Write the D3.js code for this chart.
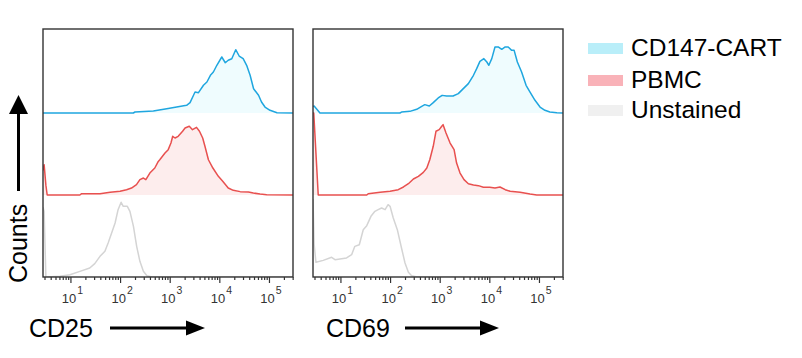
<!DOCTYPE html>
<html><head><meta charset="utf-8">
<script src="https://cdn.jsdelivr.net/npm/d3@7"></script>
<style>
html,body{margin:0;padding:0;background:#fff;}
svg{display:block;font-family:"Liberation Sans",Arial,Helvetica,sans-serif;}
</style></head>
<body><svg id="chart" width="802" height="358"></svg>
<script>
// ---- data ----
const panels = ["CD25", "CD69"];
const categories = ["CD147-CART", "PBMC", "Unstained"];
const tickExponents = [1, 2, 3, 4, 5];
const xDomain = [2.8, 305000];

// [fluorescence intensity, % of mode]
const cd25Cart = [[2.8,0],[185,0],[200,1.2],[468,2.4],[871,5.3],[1380,7.3],[2190,9.4],[2570,12.6],[3020,21.6],[3240,25.6],[3800,24.8],[4790,33.8],[5620,37.8],[6610,46],[7590,50],[8910,58.2],[11200,68.3],[13200,61.3],[15100,64.3],[17800,66.2],[21400,77.2],[25100,69.5],[30200,66.2],[35500,58.2],[41700,46],[49000,29.6],[61700,21.6],[70800,13.4],[83200,7.3],[105000,3.3],[145000,0.4],[305000,0]];
const cd25Pbmc = [[2.8,30],[2.95,37],[3.2,12],[3.4,0],[15.5,0],[16.8,1.6],[39.4,1.6],[63,3.3],[100,4.5],[135,6.5],[170,8.5],[214,12.6],[251,18.7],[295,20.7],[331,18.7],[398,26.8],[501,32.9],[589,41],[631,43],[804,51.2],[933,55.3],[1060,63.4],[1150,71.6],[1280,69.5],[1480,71.6],[1820,77.7],[2040,81.7],[2480,83.8],[2880,79.7],[3470,82.5],[3980,77.7],[4620,69.5],[5130,59.4],[6030,43],[7410,32.9],[9550,22.8],[11700,16.7],[15100,8.5],[19100,5.7],[26300,4.1],[38500,3.7],[48400,2.4],[66100,1.2],[90200,0.4],[305000,0]];
const cd25Unstained = [[2.8,85],[2.95,80],[3.2,0],[3.31,0],[6.14,0.8],[9.77,2.8],[15.5,6.9],[24.5,11],[30.9,16.3],[39.4,25.2],[49.5,31.3],[57.5,41.5],[67.6,53.7],[79.4,65.9],[91.2,82.1],[105,91.1],[116,86.2],[140,86.2],[158,80.1],[186,61.8],[216,37.4],[251,19.1],[295,6.9],[347,1.6],[437,0],[305000,0]];
const cd69Cart = [[2.8,8],[2.95,8.5],[3.87,0],[158,0],[170,1.2],[251,2],[344,4.5],[434,8.1],[501,10.2],[617,8.5],[741,12.6],[933,18.3],[1120,21.5],[1380,20.7],[1860,20.7],[2370,23.6],[2990,29.7],[3780,35.8],[4790,46],[5560,54.1],[6460,63],[7760,66.3],[8910,62.2],[9770,58.2],[11200,66.3],[13000,80.5],[15100,80.5],[17800,77.7],[20900,80.5],[24000,80.5],[28200,76.4],[31600,76.4],[36700,62.2],[44700,50],[55000,33.8],[66100,25.6],[83200,15.5],[105000,7.3],[132000,3.3],[166000,1.2],[229000,0.4],[305000,0]];
const cd69Pbmc = [[2.8,100],[2.9,100],[3.57,0],[33.9,0],[36.3,1.6],[63,3.3],[100,4.5],[146,6.5],[186,9.8],[234,13.8],[295,19.5],[372,22.8],[468,27.6],[550,32.9],[631,43],[741,59.4],[841,77.7],[977,79.7],[1100,83.8],[1170,85.8],[1340,75.6],[1620,63.4],[1950,55.3],[2190,39],[2570,26.8],[3090,18.7],[3780,13.8],[4790,12.2],[6030,11.4],[7590,9.4],[10200,9.4],[13000,8.5],[16400,9.8],[20900,6.5],[26300,4.5],[41700,3.3],[66100,1.2],[90200,0],[305000,0]];
const cd69Unstained = [[2.8,95],[2.95,40],[3.21,17.9],[4.5,20.3],[6.65,24],[7.76,21.1],[9.77,22],[13.3,23.2],[16.8,27.2],[19.5,37.4],[24,39.4],[28.8,57.7],[33.9,62.6],[41.2,74],[49.5,80.1],[57.5,82.1],[67.6,84.2],[79.4,82.1],[91.2,88.2],[100,86.2],[116,72],[140,57.7],[170,35.4],[200,17.1],[234,5.7],[272,1.6],[347,0],[305000,0]];

const panelData = [[cd25Cart, cd25Pbmc, cd25Unstained], [cd69Cart, cd69Pbmc, cd69Unstained]];

// ---- styles ----
const lineColors = ["#1fa6df", "#e8504f", "#d4d4d4"];
const fillColors = ["#effcfe", "#fdeded", "none"];
const swatchColors = ["#b9eef9", "#f9b2b8", "#f0f0f0"];

const svg = d3.select("#chart");
const panelW = 250, panelTop = 29, panelBottom = 277, panelStep = 270, panelLeft0 = 43;
const trackH = 82, baseline0 = 113;
const titleX = [29, 326];
const arrows = [[110, 205], [405, 499]];

const y = d3.scaleLinear().domain([0, 100]).range([0, trackH]);

panels.forEach((name, pi) => {
  const left = panelLeft0 + pi * panelStep;
  const x = d3.scaleLog().domain(xDomain).range([left, left + panelW]);
  const clipId = "clip" + pi;
  svg.append("clipPath").attr("id", clipId).append("rect")
    .attr("x", left).attr("y", panelTop).attr("width", panelW).attr("height", panelBottom - panelTop);
  const g = svg.append("g").attr("clip-path", `url(#${clipId})`);

  panelData[pi].forEach((series, si) => {
    const base = baseline0 + si * trackH;
    const area = d3.area().x(d => x(d[0])).y0(base).y1(d => base - y(d[1]));
    const line = d3.line().x(d => x(d[0])).y(d => base - y(d[1]));
    if (fillColors[si] !== "none") {
      g.append("path").datum(series).attr("d", area).attr("fill", fillColors[si]);
    }
    g.append("path").datum(series).attr("d", line).attr("fill", "none")
      .attr("stroke", lineColors[si]).attr("stroke-width", 1.5).attr("stroke-linejoin", "round");
  });

  // frame
  svg.append("rect").attr("x", left).attr("y", panelTop).attr("width", panelW)
    .attr("height", panelBottom - panelTop).attr("fill", "none")
    .attr("stroke", "#333").attr("stroke-width", 1.4);

  // minor ticks
  const minor = [];
  for (let e = 0; e <= 5; e++) for (let m = 2; m <= 9; m++) {
    const v = m * Math.pow(10, e);
    if (v >= xDomain[0] && v <= xDomain[1]) minor.push(v);
  }
  const majors = tickExponents.map(e => Math.pow(10, e));
  const axMinor = d3.axisBottom(x).tickValues(minor).tickSize(3).tickFormat(() => "");
  const axMajor = d3.axisBottom(x).tickValues(majors).tickSize(6).tickFormat(() => "");
  [axMinor, axMajor].forEach(ax => {
    const a = svg.append("g").attr("transform", `translate(0,${panelBottom})`).call(ax);
    a.select(".domain").remove();
    a.selectAll("line").attr("stroke", "#333").attr("stroke-width", 1.2);
  });

  // major labels 10^n
  tickExponents.forEach(e => {
    const t = svg.append("text").attr("x", x(Math.pow(10, e)) + 2).attr("y", 303)
      .attr("text-anchor", "middle").attr("font-size", 13).attr("fill", "#333");
    t.append("tspan").text("10");
    t.append("tspan").attr("dx", 1).attr("dy", -9.5).attr("font-size", 10.5).text(String(e));
  });

  // axis title + arrow
  svg.append("text").attr("x", titleX[pi]).attr("y", 337).attr("font-size", 25).attr("fill", "#000").text(name);
  const [x0, x1] = arrows[pi];
  svg.append("line").attr("x1", x0).attr("x2", x1 - 15).attr("y1", 328).attr("y2", 328)
    .attr("stroke", "#000").attr("stroke-width", 3);
  svg.append("path").attr("d", `M${x1 - 19},320.5 L${x1},328 L${x1 - 19},335.5 Z`).attr("fill", "#000");
});

// Counts label and arrow
svg.append("text").attr("transform", "translate(27,283) rotate(-90)")
  .attr("font-size", 25).attr("fill", "#000").text("Counts");
svg.append("line").attr("x1", 18.5).attr("x2", 18.5).attr("y1", 191).attr("y2", 110)
  .attr("stroke", "#000").attr("stroke-width", 3);
svg.append("path").attr("d", "M9,114 L18.5,95 L28,114 Z").attr("fill", "#000");

// legend
const legendY = [43, 75, 105];
categories.forEach((c, i) => {
  svg.append("rect").attr("x", 588).attr("y", legendY[i]).attr("width", 35).attr("height", 11)
    .attr("fill", swatchColors[i]);
  svg.append("text").attr("x", 631).attr("y", legendY[i] + 12.5).attr("font-size", 24.5)
    .attr("fill", "#000").text(c);
});
</script></body></html>
